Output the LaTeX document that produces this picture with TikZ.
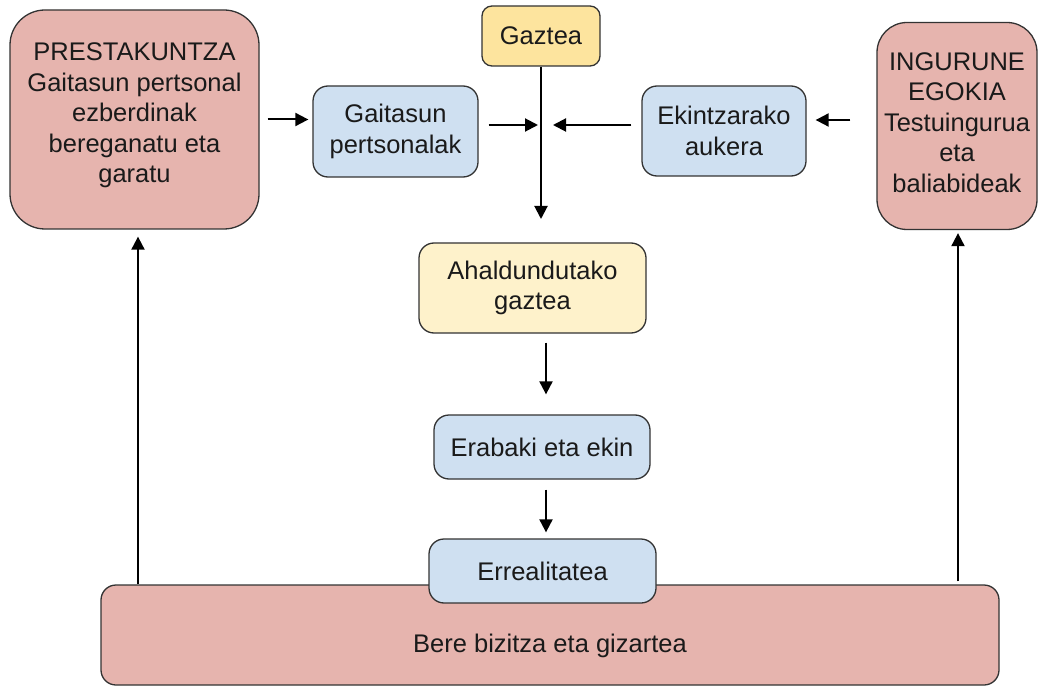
\documentclass[tikz,border=0pt]{standalone}
\usepackage{fontspec}
\setmainfont{Liberation Sans}
\usetikzlibrary{arrows.meta,calc}
\definecolor{pinkbox}{HTML}{E6B4AE}
\definecolor{bluebox}{HTML}{CFE0F1}
\definecolor{yellowbox}{HTML}{FDE49E}
\definecolor{paleyellow}{HTML}{FEF2CB}
\definecolor{edgecol}{HTML}{333333}
\definecolor{txtcol}{HTML}{1A1A1A}
\begin{document}
\begin{tikzpicture}[x=1pt,y=-1pt,
  box/.style={draw=edgecol, line width=1.3pt, align=center, inner sep=0pt,
    font=\fontsize{25.5}{30.5}\selectfont, text=txtcol},
  pinkb/.style={box, fill=pinkbox},
  blueb/.style={box, fill=bluebox},
  yelb/.style={box, fill=yellowbox},
  paleb/.style={box, fill=paleyellow},
  arr/.style={-{Triangle[length=13pt,width=13pt]}, line width=2pt, draw=black}]
\useasboundingbox (0,0) rectangle (1039,687);

\node[pinkb, minimum width=249pt, minimum height=219pt, rounded corners=35pt] (P) at (134.5,119.5)
  {\raisebox{4pt}[\height][\depth]{\begin{tabular}{@{}c@{}}PRESTAKUNTZA\\Gaitasun pertsonal\\ezberdinak\\bereganatu eta\\garatu\end{tabular}}};
\node[blueb, minimum width=165pt, minimum height=91pt, rounded corners=15pt] (G) at (395.5,131.5)
  {Gaitasun\\pertsonalak};
\node[yelb, minimum width=118pt, minimum height=60pt, rounded corners=10pt] (Gz) at (541,36)
  {Gaztea};
\node[blueb, minimum width=164pt, minimum height=90pt, rounded corners=15pt] (E) at (724,131)
  {Ekintzarako\\aukera};
\node[pinkb, minimum width=160pt, minimum height=207pt, rounded corners=30pt] (I) at (957,126)
  {\raisebox{1pt}[\height][\depth]{\begin{tabular}{@{}c@{}}INGURUNE\\EGOKIA\\Testuingurua\\eta\\baliabideak\end{tabular}}};
\node[paleb, minimum width=227pt, minimum height=90pt, rounded corners=15pt] (A) at (532.5,288)
  {Ahaldundutako\\gaztea};
\node[blueb, minimum width=216pt, minimum height=64pt, rounded corners=15pt] (Er) at (542,447)
  {Erabaki eta ekin};
\node[pinkb, minimum width=898pt, minimum height=100pt, rounded corners=15pt] (B) at (550,635)
  {\raisebox{-11pt}[\height][\depth]{Bere bizitza eta gizartea}};
\node[blueb, minimum width=227pt, minimum height=64pt, rounded corners=15pt] (R) at (542.5,571)
  {Errealitatea};

\coordinate (hub) at (541,125);
\coordinate (down) at (541,219);
\coordinate (iw) at ($(I.west)+(0,-6)$);

\draw[arr, shorten <=8pt, shorten >=4pt] (P.east) -- (P.east -| G.west);
\draw[arr, shorten <=10pt, shorten >=3pt] (G.east |- hub) -- (hub);
\draw[arr, shorten <=10pt, shorten >=12pt] (E.west |- hub) -- (hub);
\draw[arr, shorten <=26pt, shorten >=9pt] (iw) -- (iw -| E.east);
\draw[arr] (Gz.south) -- (down);
\draw[arr, shorten <=9pt, shorten >=20pt] (A.south -| 546,0) -- (Er.north -| 546,0);
\draw[arr, shorten <=10pt, shorten >=6pt] (Er.south -| 546,0) -- (R.north -| 546,0);
\draw[arr, shorten >=7pt] (B.north -| 138,0) -- (P.south -| 138,0);
\draw[arr, shorten <=3pt, shorten >=3pt] (B.north -| 958,0) -- (I.south -| 958,0);
\end{tikzpicture}
\end{document}
